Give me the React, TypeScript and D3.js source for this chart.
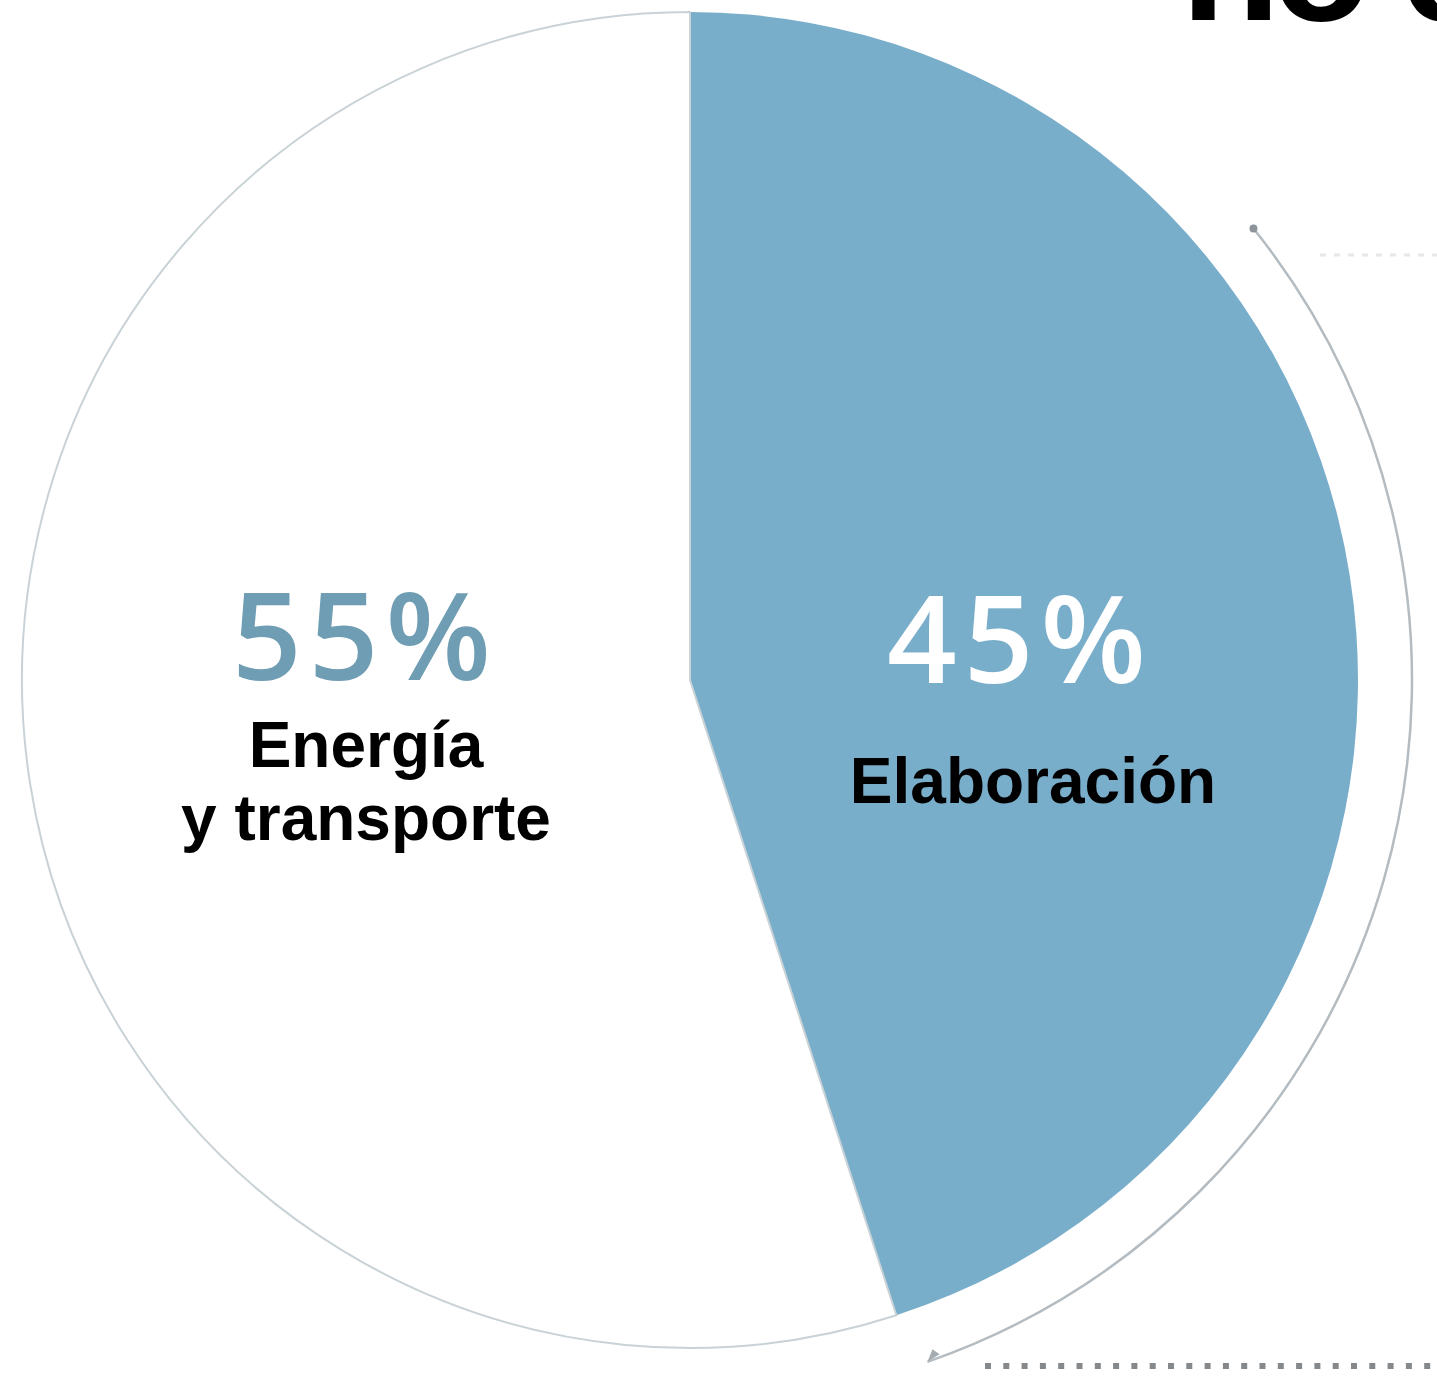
import React from "react";
import * as d3 from "d3";

const categories = ["Elaboración", "Energía y transporte"];
const values = [45, 55];
const percentLabels = ["45%", "55%"];
const nameLines = [["Elaboración"], ["Energía", "y transporte"]];
const titleText = "no c";

const W = 1437;
const H = 1380;
const cx = 690;
const cy = 680;
const R = 668;

export default function App() {
  const pie = d3
    .pie<number>()
    .sort(null)
    .startAngle(0)
    .endAngle(2 * Math.PI)
    .value((d) => d);
  const arcs = pie(values);
  const arcGen = d3.arc<d3.PieArcDatum<number>>().innerRadius(0).outerRadius(R);
  const fills = ["#79aecb", "#ffffff"];

  const outerR = 722;
  const a0 = (51.3 * Math.PI) / 180;
  const a1 = (160.8 * Math.PI) / 180;
  const outerArc = d3.arc()({
    innerRadius: outerR,
    outerRadius: outerR,
    startAngle: a0,
    endAngle: a1,
  } as any);
  const pt = (a: number, r: number) => [cx + r * Math.sin(a), cy - r * Math.cos(a)];
  const [sx, sy] = pt(a0, outerR);
  const [ex, ey] = pt(a1, outerR);

  const pctPos = [
    { x: 1020, y: 683, fill: "#ffffff" },
    { x: 365, y: 680, fill: "#6f9db3" },
  ];
  const namePos = [
    { x: 1033, y: 803 },
    { x: 366, y: 767 },
  ];

  const xDots = d3.scaleLinear().domain([0, 1]).range([985, W]);

  return (
    <svg
      width={W}
      height={H}
      style={{ position: "absolute", left: 0, top: 0, background: "#ffffff" }}
    >
      <text
        x={1181}
        y={20}
        fontFamily="Liberation Sans, Arial, sans-serif"
        fontWeight={700}
        fontSize={162}
        letterSpacing={-8}
        fill="#000"
      >
        {titleText}
      </text>

      <g transform={`translate(${cx},${cy})`}>
        {arcs.map((a, i) => (
          <path
            key={categories[i]}
            d={arcGen(a) || ""}
            fill={fills[i]}
            stroke={i === 1 ? "#c9d2d6" : "none"}
            strokeWidth={2}
          />
        ))}
        <path d={outerArc || ""} fill="none" stroke="#b4bcc1" strokeWidth={2.5} />
      </g>

      <circle cx={sx} cy={sy} r={4} fill="#8c9499" />
      <path
        d={`M${ex},${ey} l14,-3 l-5,-7 z`}
        fill="#a4acb1"
        transform={`rotate(-20 ${ex} ${ey})`}
      />

      <line
        x1={1320}
        x2={W}
        y1={255}
        y2={255}
        stroke="#e6e8ea"
        strokeWidth={3}
        strokeDasharray="6 8"
      />

      <line
        x1={xDots(0)}
        x2={xDots(1)}
        y1={1366}
        y2={1366}
        stroke="#85898c"
        strokeWidth={6}
        strokeDasharray="6 12.3"
      />

      {percentLabels.map((p, i) => (
        <text
          key={p}
          x={pctPos[i].x}
          y={pctPos[i].y}
          textAnchor="middle"
          fontFamily="Open Sans, sans-serif"
          fontWeight={600}
          fontSize={122}
          letterSpacing={7}
          fill={pctPos[i].fill}
        >
          {p}
        </text>
      ))}

      {nameLines.map((lines, i) => (
        <text
          key={categories[i]}
          x={namePos[i].x}
          y={namePos[i].y}
          textAnchor="middle"
          fontFamily="Liberation Sans, Arial, sans-serif"
          fontWeight={700}
          fontSize={64}
          fill="#000"
        >
          {lines.map((l, j) => (
            <tspan key={l} x={namePos[i].x} dy={j === 0 ? 0 : 73}>
              {l}
            </tspan>
          ))}
        </text>
      ))}
    </svg>
  );
}
